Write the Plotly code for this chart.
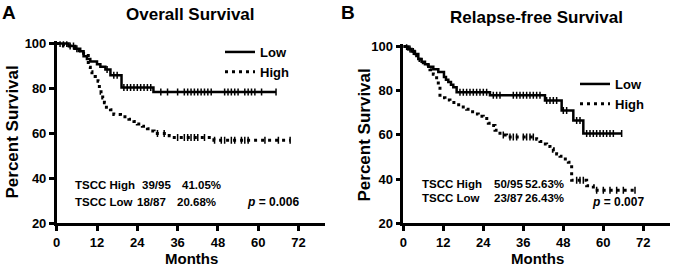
import plotly.graph_objects as go

# ---------------- data ----------------
month_ticks = [0, 12, 24, 36, 48, 60, 72]
pct_ticks = [20, 40, 60, 80, 100]

# Panel A: Overall survival (Kaplan-Meier step points)
os_low_t = [0, 3.5, 5.5, 7, 8, 9, 10, 12, 13, 14.5, 16, 19.3, 28.8, 65.3]
os_low_s = [100, 98.9, 97.7, 96.6, 94.3, 93.1, 92, 90.8, 89.7, 88.5, 85.9, 80.4, 78.4, 78.4]
os_low_cens = [1, 2, 3, 4, 5, 6, 15, 17, 18, 20, 21, 22, 23, 24, 25, 26, 27, 28, 31, 33, 36,
               38, 39, 40, 41, 42, 43, 44, 45, 46, 50, 51, 52, 53, 54, 56, 57, 58, 59, 61, 65.3]

os_high_t = [0, 2, 4, 6, 8, 9.4, 10, 10.5, 11.5, 12.3, 12.7, 13.2, 13.7, 14.2, 14.8, 16, 17,
             19, 21.5, 23, 24, 25.5, 27, 28, 29, 33.5, 35, 46.8, 69.5]
os_high_s = [100, 98.9, 97.9, 96.8, 94.7, 89.5, 87.4, 85.3, 84.2, 83.2, 80, 77.9, 75.8, 73.7,
             71.6, 70.5, 68.4, 67.4, 66.3, 65.3, 64.2, 63.2, 62.1, 61.1, 60, 59, 58.2, 57, 57]
os_high_cens = [30, 32, 36, 38, 39, 40, 41, 42, 44, 47, 49, 50, 52, 53, 55, 56, 57, 62, 66, 69.5]

# Panel B: Relapse-free survival
rfs_low_t = [0, 1.5, 2.5, 3.5, 4.5, 5.5, 6.5, 7.5, 9, 10.5, 12.2, 12.8, 13.5, 14.3, 15, 16,
             26, 42.5, 47.5, 51, 54, 65.5]
rfs_low_s = [100, 98.9, 97.7, 96.6, 94.3, 93.1, 92, 90.8, 89.7, 88.5, 86.2, 85, 83.9, 82.7,
             81.6, 79.3, 78, 75.6, 71, 66.5, 60.6, 60.6]
rfs_low_cens = [1, 2, 3, 17, 18, 19, 20, 21, 22, 23, 24, 25, 27, 28, 29, 33, 34, 35, 36, 37,
                38, 39, 40, 41, 43, 44, 45, 46, 48, 49, 52, 53, 55, 56, 57, 58, 59, 60, 61,
                62, 63, 65.5]

rfs_high_t = [0, 1.5, 3, 4, 5, 6, 7, 8, 9, 10, 10.5, 11, 12.5, 14, 16, 17.5, 19, 20, 21.5,
              22.5, 24, 25.5, 26.5, 27.5, 29, 31, 40, 41, 42, 43, 44, 45, 46, 47, 48, 49.5,
              50.5, 55, 57, 69.5]
rfs_high_s = [100, 98.9, 97.9, 95.8, 93.7, 92.6, 91.6, 89.5, 87.4, 84.2, 81.1, 76.8, 75.8,
              74.7, 73.7, 72.6, 71.6, 70.5, 69.5, 68.4, 67.4, 65.3, 64.2, 62.1, 60, 59, 58,
              57, 55.9, 54.8, 53.7, 52.6, 51.4, 50.3, 49.1, 47.6, 39.5, 37, 35, 35]
rfs_high_cens = [30, 32, 33, 34, 36, 37, 38, 39, 52, 53, 54, 58, 60, 62, 64, 66, 69.5]

series_names = ["Low", "High"]
stats_A = [["TSCC High", "39/95", "41.05%"], ["TSCC Low", "18/87", "20.68%"]]
stats_B = [["TSCC High", "50/95", "52.63%"], ["TSCC Low", "23/87", "26.43%"]]
pvals = ["0.006", "0.007"]

# ---------------- helpers ----------------
W, H = 675, 268
FONT = "Liberation Sans, Arial, Helvetica, sans-serif"


def px(x):
    return x / W


def py(y):
    return 1 - y / H


def surv_at(t, times, surv):
    v = surv[0]
    for ti, si in zip(times, surv):
        if ti <= t:
            v = si
    return v


fig = go.Figure()


def add_panel(xa, ya, lg, low_t, low_s, low_c, high_t, high_s, high_c):
    fig.add_trace(go.Scatter(x=low_t, y=low_s, mode="lines", line_shape="hv",
                             line=dict(color="black", width=2.5), name=series_names[0],
                             xaxis=xa, yaxis=ya, legend=lg))
    fig.add_trace(go.Scatter(x=high_t, y=high_s, mode="lines", line_shape="hv",
                             line=dict(color="black", width=3, dash="3px,4px"),
                             name=series_names[1], xaxis=xa, yaxis=ya, legend=lg))
    fig.add_trace(go.Scatter(x=low_c, y=[surv_at(t, low_t, low_s) for t in low_c],
                             mode="markers",
                             marker=dict(symbol="line-ns", size=5,
                                         line=dict(color="black", width=1.5)),
                             showlegend=False, xaxis=xa, yaxis=ya))
    fig.add_trace(go.Scatter(x=high_c, y=[surv_at(t, high_t, high_s) for t in high_c],
                             mode="markers",
                             marker=dict(symbol="line-ns", size=5,
                                         line=dict(color="black", width=1.5)),
                             showlegend=False, xaxis=xa, yaxis=ya))


add_panel("x", "y", "legend", os_low_t, os_low_s, os_low_cens,
          os_high_t, os_high_s, os_high_cens)
add_panel("x2", "y2", "legend2", rfs_low_t, rfs_low_s, rfs_low_cens,
          rfs_high_t, rfs_high_s, rfs_high_cens)

axis_common = dict(showline=True, linecolor="black", linewidth=2.5, ticks="outside",
                   ticklen=5, tickwidth=2.5, tickcolor="black", showgrid=False,
                   zeroline=False, automargin=False,
                   tickfont=dict(family=FONT, size=13, color="black", weight="bold"))

fig.update_layout(
    width=W, height=H, margin=dict(l=0, r=0, t=0, b=0),
    paper_bgcolor="white", plot_bgcolor="white",
    font=dict(family=FONT, color="black"),
    xaxis=dict(domain=[px(56.7), px(325.4)], range=[0, 80], tickvals=month_ticks,
               anchor="y", **axis_common),
    yaxis=dict(domain=[py(223.3), py(41.3)], range=[20, 101], tickvals=pct_ticks,
               anchor="x", **axis_common),
    xaxis2=dict(domain=[px(403.3), px(670)], range=[0, 80], tickvals=month_ticks,
                anchor="y2", **axis_common),
    yaxis2=dict(domain=[py(223.3), py(44.3)], range=[20, 101], tickvals=pct_ticks,
                anchor="x2", **axis_common),
    legend=dict(x=px(220), y=py(37), xanchor="left", yanchor="top",
                bgcolor="rgba(0,0,0,0)", itemwidth=30,
                font=dict(family=FONT, size=13, color="black", weight="bold")),
    legend2=dict(x=px(575), y=py(69), xanchor="left", yanchor="top",
                 bgcolor="rgba(0,0,0,0)", itemwidth=30,
                 font=dict(family=FONT, size=13, color="black", weight="bold")),
    showlegend=True,
)

ann = []


def text(x, y, s, size, xanchor="center", angle=0):
    ann.append(dict(x=px(x), y=py(y), xref="paper", yref="paper", text=s, showarrow=False,
                    xanchor=xanchor, yanchor="middle", textangle=angle,
                    font=dict(family=FONT, size=size, color="black", weight="bold")))


# panel letters and titles
text(9, 13, "A", 19)
text(348, 12, "B", 19)
text(190.8, 15, "Overall Survival", 17)
text(536.7, 18, "Relapse-free Survival", 17)
# axis titles
text(12, 132.5, "Percent Survival", 17, angle=-90)
text(363.5, 135, "Percent Survival", 17, angle=-90)
text(191.3, 258, "Months", 15)
text(537.5, 258, "Months", 15)

# stats, panel A (columns as placed in the original)
for row, yy, xs in zip(stats_A, [185, 201.7], [[73.3, 140, 180], [73.3, 135, 175]]):
    for s, xx in zip(row, xs):
        text(xx, yy, s, 11.5, "left")
# stats, panel B
for row, yy in zip(stats_B, [184, 198.3]):
    for s, xx in zip(row, [420, 491.7, 523]):
        text(xx, yy, s, 11.5, "left")
text(245, 201.7, "<i>p</i> = " + pvals[0], 12, "left")
text(590, 201.7, "<i>p</i> = " + pvals[1], 12, "left")

fig.update_layout(annotations=ann)
fig.write_html("out.html", config={"displayModeBar": False},
               post_script="document.body.style.margin='0';")
